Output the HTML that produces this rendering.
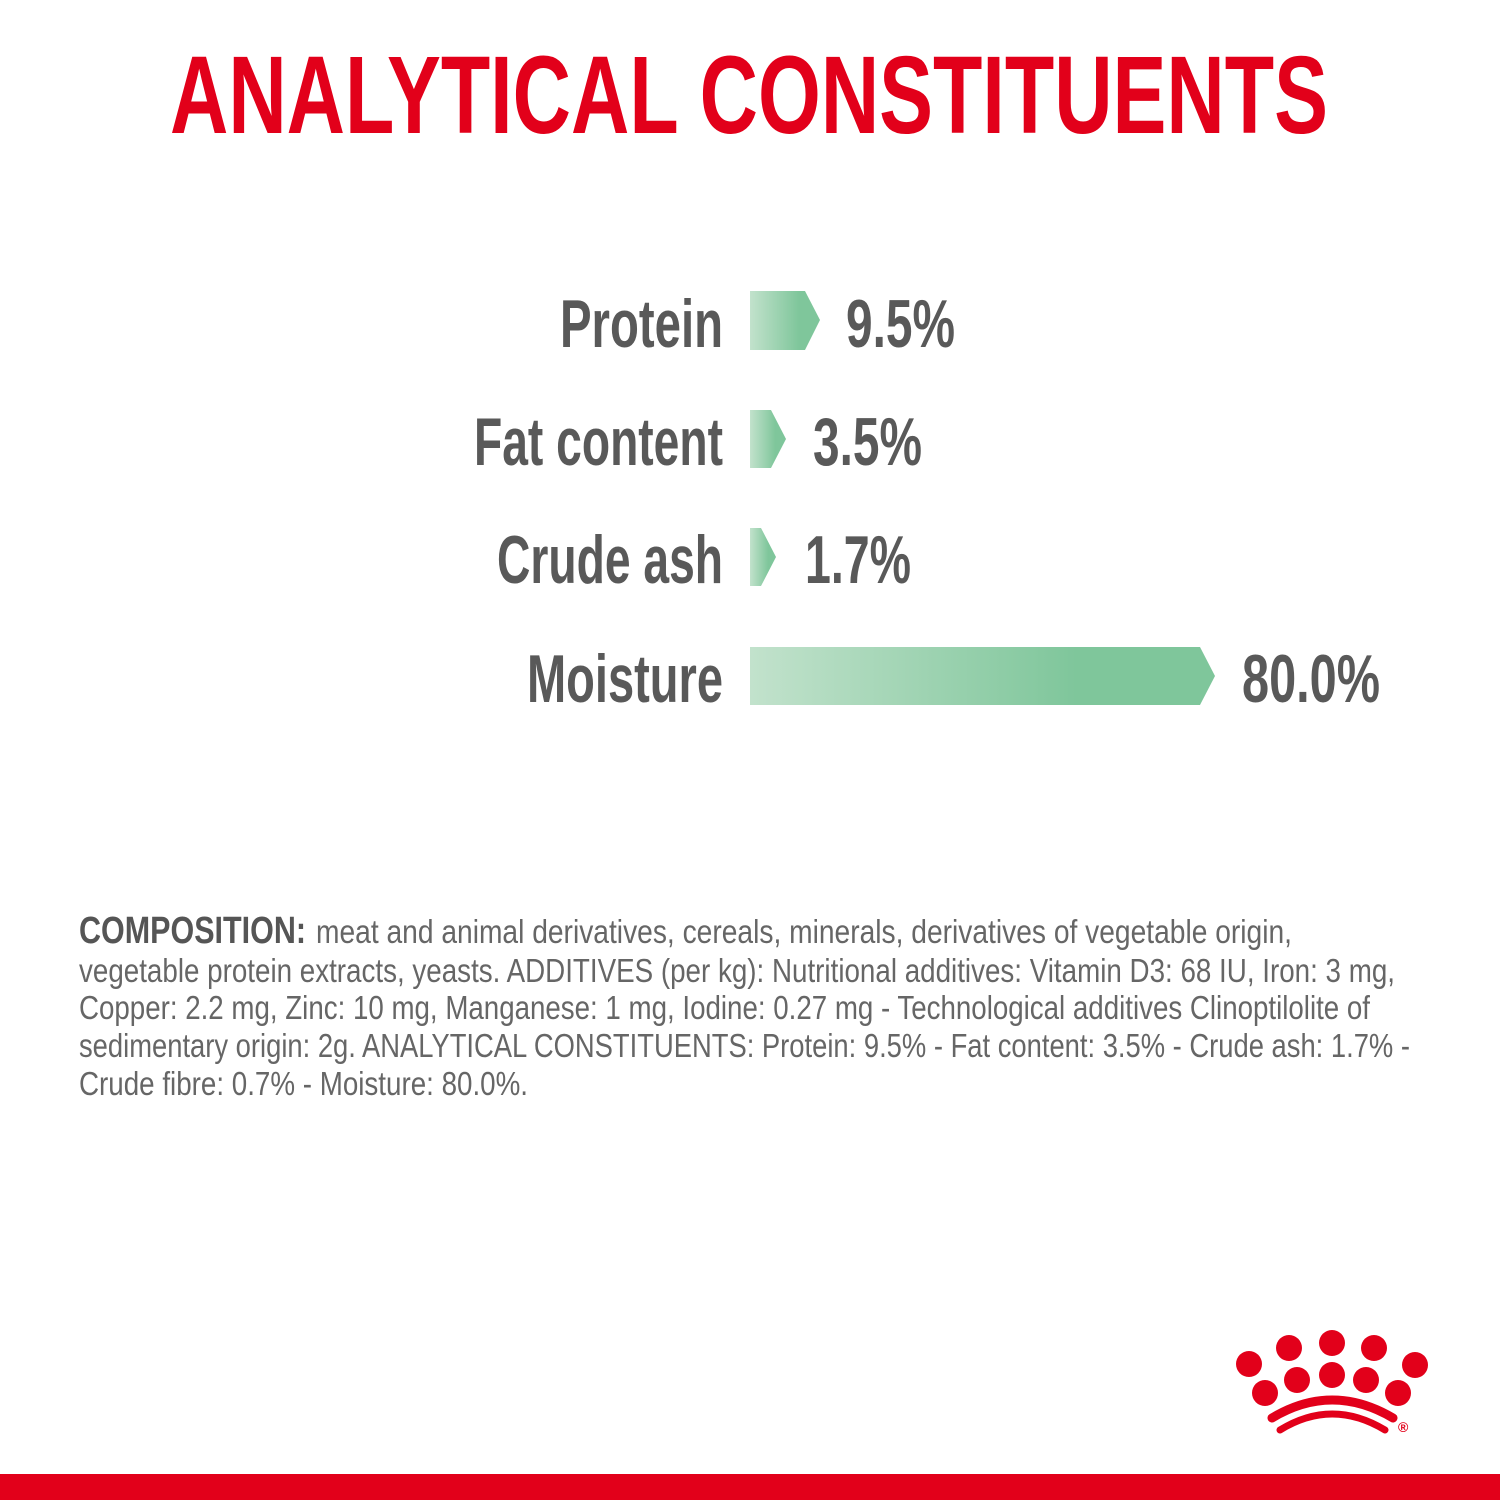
<!DOCTYPE html>
<html><head><meta charset="utf-8"><style>
html,body{margin:0;padding:0;background:#fff;}
svg{display:block}
</style></head><body>
<svg width="1500" height="1500" viewBox="0 0 1500 1500" xmlns="http://www.w3.org/2000/svg">
<defs>
<linearGradient id="g" x1="0" x2="1" y1="0" y2="0">
<stop offset="0" stop-color="#c2e2cc"/><stop offset="0.7" stop-color="#7fc69b"/><stop offset="1" stop-color="#7fc69b"/>
</linearGradient>
</defs>
<rect width="1500" height="1500" fill="#fff"/>
<text x="170" y="133" font-family="Liberation Sans, sans-serif" font-weight="bold" font-size="110" fill="#e2001a" textLength="1158" lengthAdjust="spacingAndGlyphs">ANALYTICAL CONSTITUENTS</text>

<g font-family="Liberation Sans, sans-serif" font-weight="bold" font-size="68" fill="#595959">
<text x="560" y="347" textLength="163" lengthAdjust="spacingAndGlyphs">Protein</text>
<text x="474" y="465" textLength="249" lengthAdjust="spacingAndGlyphs">Fat content</text>
<text x="497" y="583" textLength="226" lengthAdjust="spacingAndGlyphs">Crude ash</text>
<text x="527" y="702" textLength="196" lengthAdjust="spacingAndGlyphs">Moisture</text>
<text x="846" y="347" textLength="109" lengthAdjust="spacingAndGlyphs">9.5%</text>
<text x="813" y="465" textLength="109" lengthAdjust="spacingAndGlyphs">3.5%</text>
<text x="805" y="583" textLength="106" lengthAdjust="spacingAndGlyphs">1.7%</text>
<text x="1242" y="702" textLength="138" lengthAdjust="spacingAndGlyphs">80.0%</text>
</g>
<polygon points="750,291 805,291 820,320 805,350 750,350" fill="url(#g)"/>
<polygon points="750,410 771,410 786,439 771,468 750,468" fill="url(#g)"/>
<polygon points="750,528 761,528 776,557 761,586 750,586" fill="url(#g)"/>
<polygon points="750,647 1200,647 1215,676 1200,705 750,705" fill="url(#g)"/>

<g font-family="Liberation Sans, sans-serif" font-size="33" fill="#666">
<text x="79" y="943" font-weight="bold" font-size="38" fill="#555" textLength="227" lengthAdjust="spacingAndGlyphs">COMPOSITION:</text>
<text x="316" y="943" textLength="976" lengthAdjust="spacingAndGlyphs">meat and animal derivatives, cereals, minerals, derivatives of vegetable origin,</text>
<text x="79" y="982" textLength="1316" lengthAdjust="spacingAndGlyphs">vegetable protein extracts, yeasts. ADDITIVES (per kg): Nutritional additives: Vitamin D3: 68 IU, Iron: 3 mg,</text>
<text x="79" y="1019" textLength="1291" lengthAdjust="spacingAndGlyphs">Copper: 2.2 mg, Zinc: 10 mg, Manganese: 1 mg, Iodine: 0.27 mg - Technological additives Clinoptilolite of</text>
<text x="79" y="1057" textLength="1331" lengthAdjust="spacingAndGlyphs">sedimentary origin: 2g. ANALYTICAL CONSTITUENTS: Protein: 9.5% - Fat content: 3.5% - Crude ash: 1.7% -</text>
<text x="79" y="1095" textLength="449" lengthAdjust="spacingAndGlyphs">Crude fibre: 0.7% - Moisture: 80.0%.</text>
</g>

<g fill="#e2001a">
<circle cx="1249" cy="1364" r="13"/><circle cx="1289" cy="1348" r="13"/><circle cx="1332" cy="1343" r="13"/>
<circle cx="1374" cy="1348" r="13"/><circle cx="1415" cy="1365" r="13"/>
<circle cx="1265" cy="1393" r="13"/><circle cx="1297" cy="1380" r="13"/><circle cx="1332" cy="1375" r="13"/>
<circle cx="1366" cy="1380" r="13"/><circle cx="1398" cy="1393" r="13"/>
<text x="1398" y="1432" font-family="Liberation Sans, sans-serif" font-weight="bold" font-size="14">®</text>
</g>
<g fill="none" stroke="#e2001a" stroke-linecap="round">
<path d="M1272,1418 Q1332,1382 1393,1418" stroke-width="9"/>
<path d="M1280,1430 Q1332,1398 1385,1430" stroke-width="7"/>
</g>
<rect x="0" y="1474" width="1500" height="26" fill="#e2001a"/>
</svg>
</body></html>
